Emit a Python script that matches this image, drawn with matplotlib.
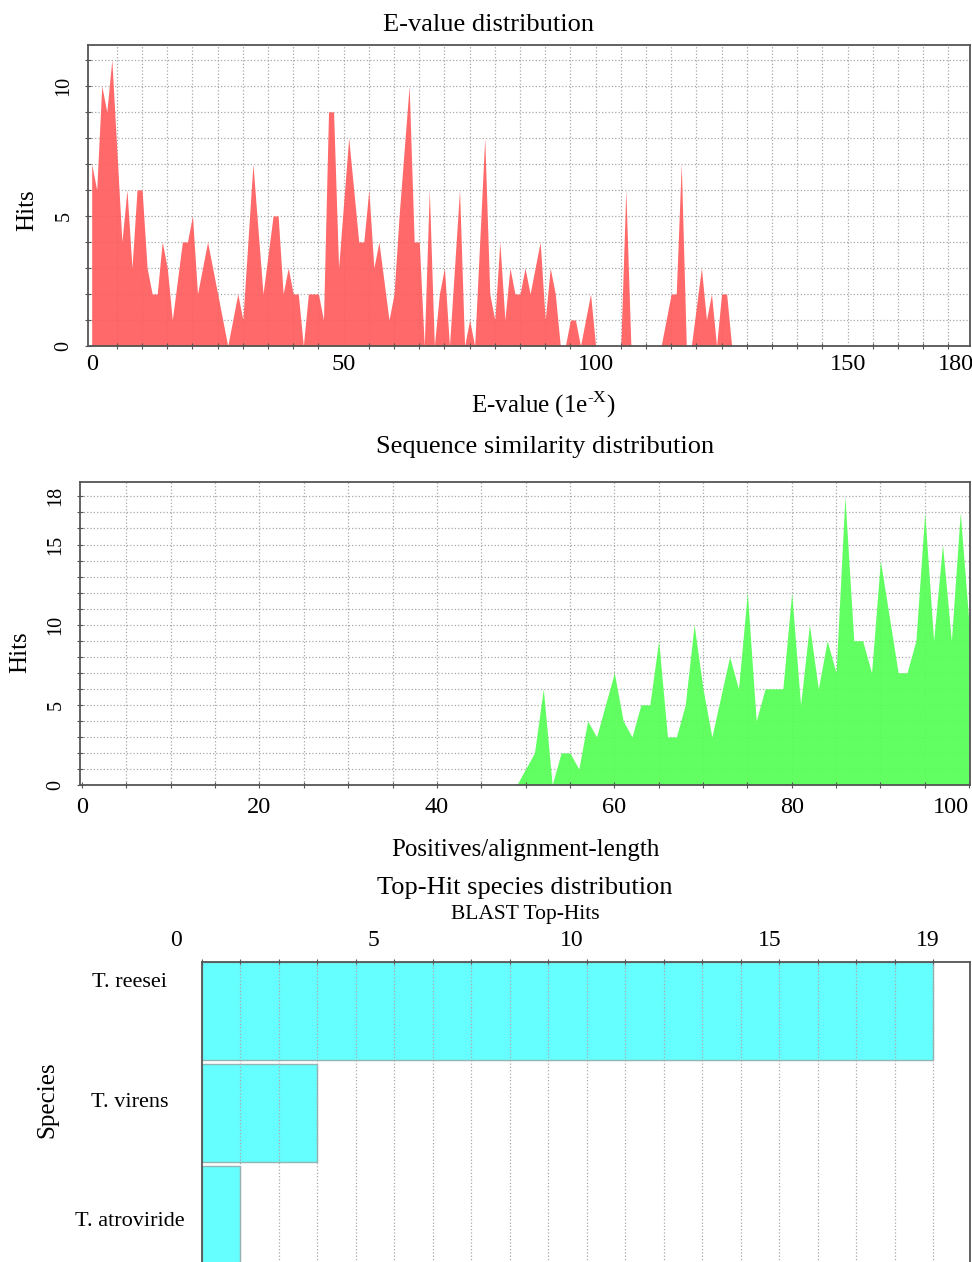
import numpy as np
import matplotlib
matplotlib.use("Agg")
import matplotlib.pyplot as plt
from matplotlib.ticker import MultipleLocator, FixedLocator

plt.rcParams['font.family'] = ['Liberation Serif', 'DejaVu Serif']
plt.rcParams['mathtext.fontset'] = 'custom'
plt.rcParams['mathtext.rm'] = 'Liberation Serif'

# E-value distribution (hits per 1e-X bin)
ev_x = [0, 1, 2, 3, 4, 6, 7, 8, 9, 10, 11, 12, 13, 14, 15, 16, 18, 19, 20, 21, 23, 25, 27, 29, 30,
        32, 34, 36, 37, 38, 39, 40, 41, 42, 43, 45, 46, 47, 48, 49, 51, 53, 54, 55, 56, 57, 59, 60,
        61, 63, 64, 65, 66, 67, 68, 69, 70, 71, 73, 74, 75, 76, 78, 79, 80, 81, 82, 83, 84, 85, 86,
        87, 89, 90, 91, 92, 93, 94, 95, 96, 97, 99, 100, 105, 106, 107, 113, 115, 116, 117, 118,
        119, 121, 122, 123, 124, 125, 126, 127]
ev_hits = [7, 6, 10, 9, 11, 4, 6, 3, 6, 6, 3, 2, 2, 4, 3, 1, 4, 4, 5, 2, 4, 2, 0, 2, 1,
           7, 2, 5, 5, 2, 3, 2, 2, 0, 2, 2, 1, 9, 9, 3, 8, 4, 4, 6, 3, 4, 1, 2,
           5, 10, 4, 4, 0, 6, 0, 2, 3, 0, 6, 0, 1, 0, 8, 2, 1, 4, 1, 3, 2, 2, 3,
           2, 4, 1, 3, 2, 0, 0, 1, 1, 0, 2, 0, 0, 6, 0, 0, 2, 2, 7, 0,
           0, 3, 1, 2, 0, 2, 2, 0]
ev_ticks = [0, 50, 100, 150, 171.5]
ev_labels = ['0', '50', '100', '150', '180']

# Sequence similarity distribution
sim_x = [49, 51, 52, 53, 54, 55, 56, 57, 58, 60, 61, 62, 63, 64, 65, 66, 67, 68, 69, 70, 71, 73,
         74, 75, 76, 77, 79, 80, 81, 82, 83, 84, 85, 86, 87, 88, 89, 90, 92, 93, 94, 95, 96, 97,
         98, 99, 100]
sim_hits = [0, 2, 6, 0, 2, 2, 1, 4, 3, 7, 4, 3, 5, 5, 9, 3, 3, 5, 10, 6, 3, 8,
            6, 12, 4, 6, 6, 12, 5, 10, 6, 9, 7, 18, 9, 9, 7, 14, 7, 7, 9, 17, 9, 15,
            9, 17, 10]

# Top-hit species
species = ['T. reesei', 'T. virens', 'T. atroviride']
top_hits = [19, 3, 1]
hit_ticks = [0, 5, 10, 15, 19]

W, H = 972, 1262
fig = plt.figure(figsize=(W / 100, H / 100), dpi=100)

def box(l, t, r, b):
    return [l / W, 1 - b / H, (r - l) / W, (b - t) / H]

SPINE = '#555555'
GRID = dict(color='#a8a8a8', linestyle=':', linewidth=0.9)

def style_axes(ax):
    for s in ax.spines.values():
        s.set_color(SPINE)
        s.set_linewidth(1.3)
    ax.tick_params(which='both', direction='inout', color=SPINE, length=5, width=0.8)
    ax.tick_params(axis='x', labelsize=17.5, pad=6)
    ax.tick_params(axis='y', labelsize=14.5, labelrotation=90, pad=8)
    for lab in ax.get_yticklabels():
        lab.set_va('center')

# --- E-value chart
ax1 = fig.add_axes(box(88, 45, 970, 346))
ax1.fill_between(ev_x, ev_hits, 0, color='#ff5c5c', alpha=0.92, linewidth=0)
ax1.set_xlim(-0.73, 174.3)
ax1.set_ylim(0, 11.57)
ax1.xaxis.set_major_locator(FixedLocator(ev_ticks))
ax1.set_xticklabels(ev_labels)
ax1.xaxis.set_minor_locator(MultipleLocator(5))
ax1.yaxis.set_major_locator(MultipleLocator(5))
ax1.yaxis.set_minor_locator(MultipleLocator(1))
for v in np.arange(5, 175, 5):
    ax1.axvline(v, **GRID, zorder=0)
for v in range(1, 12):
    ax1.axhline(v, **GRID, zorder=0)
style_axes(ax1)
ax1.tick_params(axis='x', which='major', length=0)

# --- similarity chart
ax2 = fig.add_axes(box(80, 482, 970, 785))
ax2.fill_between(sim_x, sim_hits, 0, color='#55ff55', alpha=0.92, linewidth=0)
ax2.set_xlim(-0.23, 100.1)
ax2.set_ylim(0, 18.9)
ax2.xaxis.set_major_locator(MultipleLocator(20))
ax2.xaxis.set_minor_locator(MultipleLocator(5))
ax2.yaxis.set_major_locator(FixedLocator([0, 5, 10, 15, 18]))
ax2.yaxis.set_minor_locator(MultipleLocator(1))
for v in np.arange(5, 100, 5):
    ax2.axvline(v, **GRID, zorder=0)
for v in range(1, 19):
    ax2.axhline(v, **GRID, zorder=0)
style_axes(ax2)
for lab in ax2.get_xticklabels():
    if lab.get_text() == '100':
        lab.set_ha('right')

# --- species chart
ax3 = fig.add_axes(box(202, 962, 970, 1268))
ypos = np.arange(len(species))
ax3.barh(ypos, top_hits, height=0.96, color='#66ffff', edgecolor='#8fb5b5', linewidth=1, zorder=1)
ax3.set_xlim(0, 19.95)
ax3.set_ylim(2.52, -0.48)
ax3.xaxis.tick_top()
ax3.xaxis.set_major_locator(MultipleLocator(1))
ax3.tick_params(axis='x', labeltop=False, direction='inout', length=5, color=SPINE)
for v in range(1, 20):
    ax3.axvline(v, **GRID, zorder=2)
ax3.set_yticks(ypos * 1.172 - 0.30)
ax3.set_yticklabels(species)
ax3.tick_params(axis='y', length=0, labelsize=16, pad=52)
for lab in ax3.get_yticklabels():
    lab.set_ha('center')
for s in ax3.spines.values():
    s.set_color(SPINE)
    s.set_linewidth(1.3)

# the top scale of the species chart starts left of the bars
ax3t = fig.add_axes(box(176, 962, 970, 1268), frameon=False)
ax3t.patch.set_visible(False)
ax3t.set_xlim(0, 20.06)
ax3t.xaxis.tick_top()
ax3t.set_xticks(hit_ticks)
ax3t.set_yticks([])
ax3t.tick_params(axis='x', length=0, labelsize=17, pad=8)

# titles and axis names
def label(x, y, s, size, rot=0):
    fig.text(x / W, 1 - y / H, s, ha='center', va='center', fontsize=size, rotation=rot)

label(488, 25, 'E-value distribution', 19)
label(543, 405, r'E-value (1e$^{\text{-X}}$)', 18)
label(27, 210, 'Hits', 18, 90)
label(545, 447, 'Sequence similarity distribution', 19)
label(525, 850, 'Positives/alignment-length', 18)
label(20, 652, 'Hits', 18, 90)
label(525, 888, 'Top-Hit species distribution', 19)
label(525, 914, 'BLAST Top-Hits', 15.5)
label(47, 1100, 'Species', 18, 90)

fig.savefig('out.png', dpi=100)
